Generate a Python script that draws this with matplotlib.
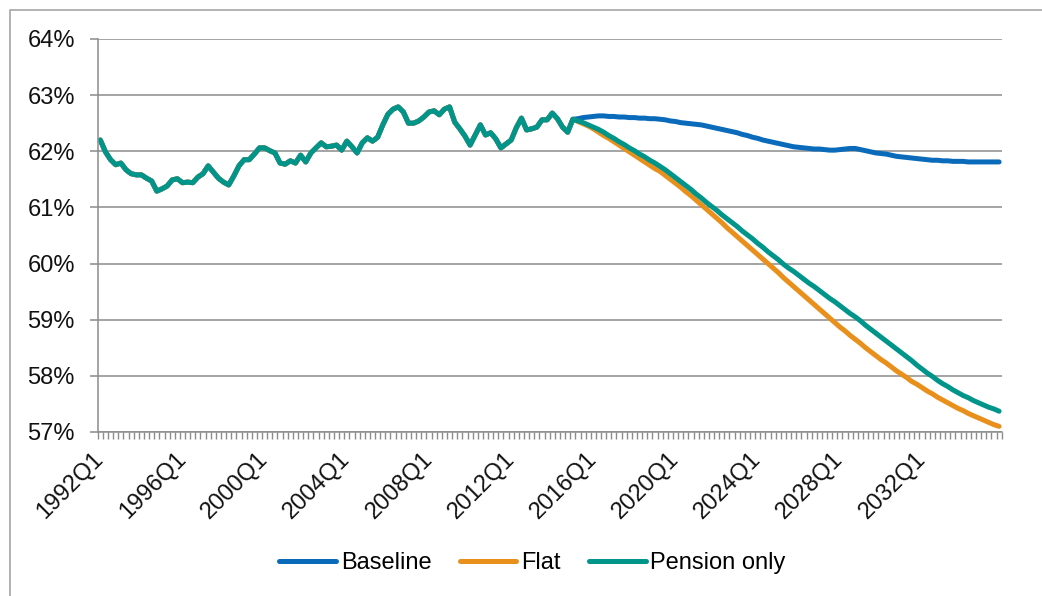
import matplotlib
matplotlib.use("Agg")
import matplotlib.pyplot as plt
from matplotlib.patches import Rectangle
from matplotlib.ticker import FuncFormatter

plt.rcParams['font.family'] = ['Liberation Sans', 'DejaVu Sans']

# quarters 1992Q1 .. 2035Q4
quarters = [f"{y}Q{q}" for y in range(1992, 2036) for q in range(1, 5)]

# history 1992Q1 .. 2015Q1 (shared by all three series)
history = [62.20, 61.99, 61.85, 61.76, 61.79, 61.67, 61.60, 61.58, 61.58, 61.52,
           61.47, 61.29, 61.33, 61.38, 61.49, 61.51, 61.44, 61.45, 61.44, 61.54,
           61.60, 61.74, 61.63, 61.52, 61.45, 61.40, 61.56, 61.74, 61.85, 61.85,
           61.95, 62.06, 62.06, 62.01, 61.97, 61.79, 61.77, 61.83, 61.79, 61.93,
           61.81, 61.97, 62.06, 62.15, 62.08, 62.09, 62.11, 62.02, 62.18, 62.08,
           61.97, 62.15, 62.24, 62.18, 62.25, 62.47, 62.66, 62.75, 62.79, 62.70,
           62.50, 62.50, 62.54, 62.61, 62.70, 62.72, 62.65, 62.75, 62.79, 62.52,
           62.40, 62.27, 62.11, 62.29, 62.47, 62.29, 62.33, 62.22, 62.06, 62.13,
           62.20, 62.42, 62.59, 62.38, 62.40, 62.43, 62.56, 62.56, 62.68, 62.58,
           62.43, 62.34, 62.57]

# projections 2015Q2 .. 2035Q4
baseline_proj = [62.58, 62.60, 62.61, 62.62, 62.63, 62.63, 62.62, 62.62, 62.61, 62.61,
                 62.60, 62.60, 62.59, 62.59, 62.58, 62.58, 62.57, 62.56, 62.54, 62.53,
                 62.51, 62.50, 62.49, 62.48, 62.47, 62.45, 62.43, 62.41, 62.39, 62.37,
                 62.35, 62.33, 62.30, 62.28, 62.25, 62.23, 62.20, 62.18, 62.16, 62.14,
                 62.12, 62.10, 62.08, 62.07, 62.06, 62.05, 62.04, 62.04, 62.03, 62.02,
                 62.02, 62.03, 62.04, 62.05, 62.05, 62.03, 62.01, 61.99, 61.97, 61.96,
                 61.95, 61.93, 61.91, 61.90, 61.89, 61.88, 61.87, 61.86, 61.85, 61.84,
                 61.84, 61.83, 61.83, 61.82, 61.82, 61.82, 61.81, 61.81, 61.81, 61.81,
                 61.81, 61.81, 61.81]
flat_proj = [62.53, 62.49, 62.45, 62.40, 62.34, 62.28,
             62.23, 62.17, 62.11, 62.05, 61.99, 61.93, 61.87, 61.81, 61.75, 61.69, 61.64,
             61.57, 61.50, 61.43, 61.36, 61.28, 61.21, 61.13, 61.05,
             60.97, 60.89, 60.81, 60.73, 60.64, 60.56, 60.48, 60.40, 60.32, 60.24,
             60.16, 60.08, 60.00, 59.92, 59.84, 59.75, 59.67, 59.59, 59.51, 59.43,
             59.35, 59.27, 59.19, 59.11, 59.03,
             58.95, 58.87, 58.80, 58.72, 58.65, 58.58, 58.50, 58.43, 58.36, 58.29,
             58.23, 58.16, 58.09, 58.03,
             57.97, 57.90, 57.85, 57.79, 57.73, 57.68, 57.62, 57.57, 57.52, 57.47,
             57.42, 57.38, 57.33, 57.29, 57.25, 57.21, 57.17, 57.13, 57.10]
pension_proj = [62.54, 62.51, 62.47, 62.43, 62.39, 62.34,
                62.28, 62.23, 62.17, 62.12, 62.06, 62.01, 61.95, 61.90, 61.84, 61.79, 61.73,
                61.67, 61.60, 61.53, 61.46, 61.39, 61.32, 61.24, 61.17, 61.09,
                61.02, 60.95, 60.87, 60.80, 60.73, 60.66,
                60.58, 60.51, 60.44, 60.36, 60.29, 60.21, 60.14, 60.07, 59.99,
                59.92, 59.86, 59.79, 59.72, 59.65, 59.59, 59.52, 59.45, 59.38, 59.32,
                59.25, 59.18, 59.11, 59.05,
                58.98, 58.90, 58.83, 58.76, 58.69, 58.62, 58.55, 58.48, 58.41, 58.34,
                58.27, 58.19, 58.12, 58.05,
                57.99, 57.92, 57.86, 57.81, 57.75, 57.70, 57.65, 57.61, 57.56, 57.52,
                57.48, 57.44, 57.41, 57.37]

series_names = ["Baseline", "Flat", "Pension only"]
series_colors = ["#0b6bbb", "#e8901b", "#00958a"]
series_values = [history + baseline_proj, history + flat_proj, history + pension_proj]

y_ticks = [57, 58, 59, 60, 61, 62, 63, 64]
label_every = 16
fs = 17

fig = plt.figure(figsize=(10.42, 5.96), dpi=100)
ax = fig.add_axes([0.0938, 0.2752, 0.8675, 0.6594])

x = list(range(len(quarters)))
for name, col, vals in zip(series_names, series_colors, series_values):
    ax.plot(x, vals, color=col, lw=3.6, label=name, solid_capstyle='round',
            solid_joinstyle='round')

ax.set_xlim(-0.5, len(quarters) - 0.5)
ax.set_ylim(y_ticks[0], y_ticks[-1])
ax.set_yticks(y_ticks)
ax.yaxis.set_major_formatter(FuncFormatter(lambda v, p: f"{v:.0f}%"))
ax.grid(axis='y', color='#8c8c8c', lw=1.1)
ax.set_axisbelow(True)

# category axis: tick marks between categories, labels every 4 years
ax.set_xticks(x[::label_every])
ax.set_xticklabels(quarters[::label_every], rotation=45, ha='right', va='center',
                   rotation_mode='anchor')
ax.set_xticks([i - 0.5 for i in range(len(quarters) + 1)], minor=True)
ax.tick_params(axis='x', which='major', length=0, pad=17, labelsize=fs, colors='#111111')
ax.tick_params(axis='x', which='minor', length=5, width=1, color='#8c8c8c', direction='out')
ax.tick_params(axis='y', length=5.5, width=1.1, color='#8c8c8c', pad=11, labelsize=fs,
               labelcolor='#111111')

for s in ['top', 'right']:
    ax.spines[s].set_visible(False)
for s in ['left', 'bottom']:
    ax.spines[s].set_color('#8c8c8c')
    ax.spines[s].set_linewidth(1.1)

ax.legend(loc='center', bbox_to_anchor=(0.511, 0.055), bbox_transform=fig.transFigure,
          ncol=3, frameon=False, fontsize=fs, handlelength=2.4, handletextpad=0.2,
          columnspacing=1.2)

# chart area border (cut off at right/bottom like the original)
fig.patches.append(Rectangle((10 / 1042, -0.05), 1.1, 1 - 10 / 596 + 0.05,
                             transform=fig.transFigure, fill=False,
                             edgecolor='#a6a6a6', lw=1.2, clip_on=False))

fig.savefig("out.png", dpi=100)
